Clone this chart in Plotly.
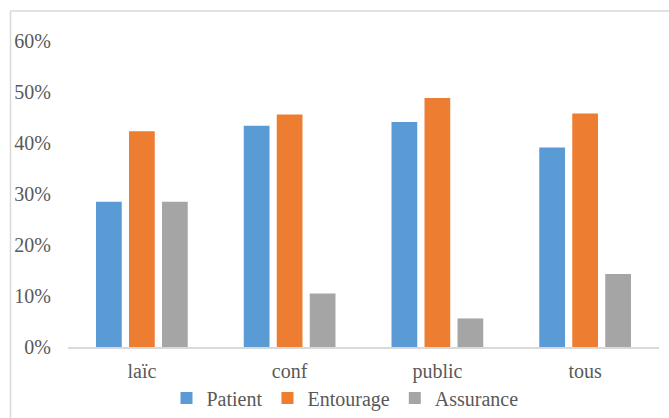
import plotly.graph_objects as go

# Categories and shares per respondent group
categories = ["laïc", "conf", "public", "tous"]
patient = [0.285, 0.434, 0.441, 0.391]
entourage = [0.423, 0.456, 0.488, 0.458]
assurance = [0.285, 0.105, 0.056, 0.143]

series_names = ["Patient", "Entourage", "Assurance"]
series_colors = ["#5b9bd5", "#ed7d31", "#a5a5a5"]

W, H = 669, 418
L, R, T, B = 68, 10, 41, 71
pw, ph = W - L - R, H - T - B

FONT = "Liberation Serif"
TXT = "#595959"

fig = go.Figure()
for name, vals, col in zip(series_names, [patient, entourage, assurance], series_colors):
    fig.add_trace(go.Bar(x=categories, y=vals, name=name, marker=dict(color=col, line_width=0)))


def px_x(p):
    return (p - L) / pw


def px_y(p):
    return (H - B - p) / ph


# light outer frame along the top and left edges
frame = "#d9d9d9"
fig.add_shape(type="line", xref="paper", yref="paper",
              x0=px_x(10.5), x1=px_x(W + 5), y0=px_y(11), y1=px_y(11),
              line=dict(color=frame, width=1.5))
fig.add_shape(type="line", xref="paper", yref="paper",
              x0=px_x(10.5), x1=px_x(10.5), y0=px_y(11), y1=px_y(H + 5),
              line=dict(color=frame, width=1.5))

fig.update_layout(
    width=W, height=H,
    margin=dict(l=L, r=R, t=T, b=B, pad=0, autoexpand=False),
    paper_bgcolor="white", plot_bgcolor="white",
    barmode="group", bargap=0.33, bargroupgap=0.22,
    font=dict(family=FONT, size=20, color=TXT),
    showlegend=True,
    legend=dict(orientation="h", x=px_x(345), xanchor="center",
                y=px_y(398), yanchor="middle",
                font=dict(family=FONT, size=20, color=TXT),
                itemwidth=30, traceorder="normal", bgcolor="rgba(0,0,0,0)"),
    xaxis=dict(showgrid=False, showline=True, linecolor="#d9d9d9", linewidth=1.5,
               ticks="", ticklabelstandoff=5, tickfont=dict(family=FONT, size=20, color=TXT)),
    yaxis=dict(range=[0, 0.6], tickvals=[0, 0.1, 0.2, 0.3, 0.4, 0.5, 0.6],
               tickformat=".0%", showgrid=False, zeroline=False, showline=False,
               ticks="", ticklabelstandoff=16, tickfont=dict(family=FONT, size=20, color=TXT)),
)

fig.write_html("out.html")
